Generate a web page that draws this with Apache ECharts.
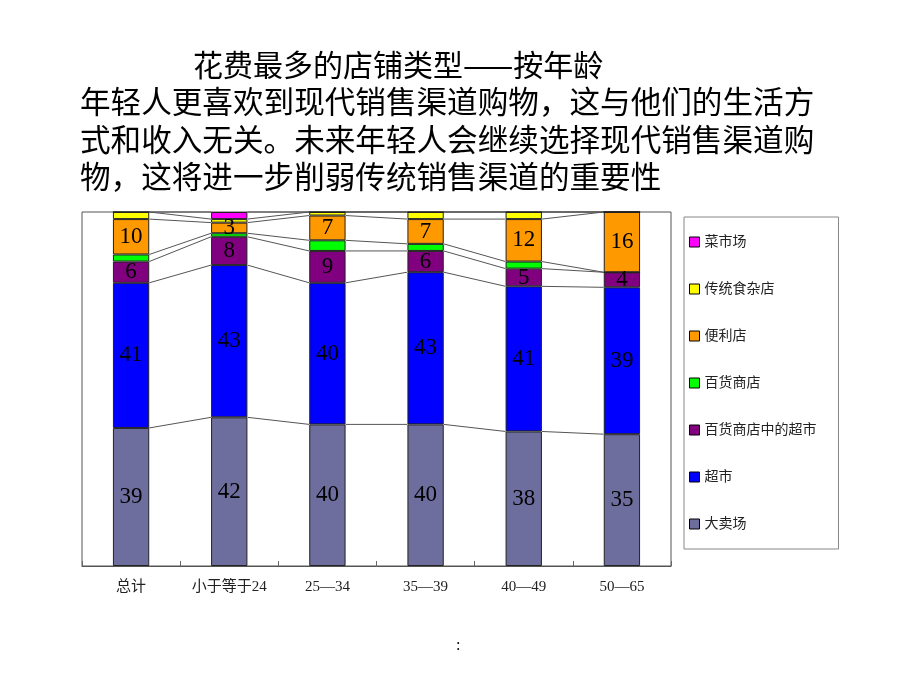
<!DOCTYPE html>
<html>
<head>
<meta charset="utf-8">
<script src="https://cdn.jsdelivr.net/npm/echarts@6/dist/echarts.min.js"></script>
<style>html,body{margin:0;padding:0;background:#fff}#chart{width:920px;height:690px}</style>
</head>
<body>
<div id="chart"></div>
<script>
const categories = ['总计', '小于等于24', '25—34', '35—39', '40—49', '50—65'];
const seriesNames = ['大卖场', '超市', '百货商店中的超市', '百货商店', '便利店', '传统食杂店', '菜市场'];
const hypermarket = [39, 42, 40, 40, 38, 35];
const supermarket = [41, 43, 40, 43, 41, 39];
const deptSupermarket = [6, 8, 9, 6, 5, 4];
const deptStore = [2, 1, 3, 2, 2, 0];
const convenience = [10, 3, 7, 7, 12, 16];
const traditional = [2, 1, 1, 2, 2, 0];
const wetMarket = [0, 2, 0, 0, 0, 0];
const legendOrder = ['菜市场', '传统食杂店', '便利店', '百货商店', '百货商店中的超市', '超市', '大卖场'];

const rawSeries = [hypermarket, supermarket, deptSupermarket, deptStore, convenience, traditional, wetMarket];
const colors = ['#6E6E9E', '#0000FF', '#800080', '#00FF00', '#FF9900', '#FFFF00', '#FF00FF'];
const showLabel = [true, true, true, false, true, false, false];

const totals = categories.map((c, i) => rawSeries.reduce((s, arr) => s + arr[i], 0));
const pctSeries = rawSeries.map(arr => arr.map((v, i) => v / totals[i] * 100));
// cumulative boundaries per category
const cum = categories.map((c, i) => {
  let s = 0;
  return pctSeries.map(arr => (s += arr[i]));
});

const BAR_FRAC = 0.37;
const labelFont = "'Liberation Serif', 'Noto Sans CJK SC', serif";

const series = rawSeries.map((raw, k) => ({
  name: seriesNames[k],
  type: 'bar',
  stack: 'total',
  barWidth: (BAR_FRAC * 100) + '%',
  data: pctSeries[k],
  itemStyle: { color: colors[k], borderColor: '#222', borderWidth: 1 },
  label: {
    show: showLabel[k],
    position: 'inside',
    color: '#000',
    fontFamily: labelFont,
    fontSize: 23,
    formatter: p => (raw[p.dataIndex] ? String(raw[p.dataIndex]) : '')
  },
  emphasis: { disabled: true }
}));

series.push({
  type: 'custom',
  name: 'serieslines',
  silent: true,
  z: 1,
  data: categories.slice(0, -1).map((c, i) => [i, 0]),
  renderItem: function (params, api) {
    const i = api.value(0);
    const bw = api.size([1, 0])[0];
    const half = bw * BAR_FRAC / 2;
    const children = [];
    for (let k = 0; k < seriesNames.length; k++) {
      const p1 = api.coord([i, cum[i][k]]);
      const p2 = api.coord([i + 1, cum[i + 1][k]]);
      children.push({
        type: 'line',
        shape: { x1: p1[0] + half, y1: p1[1], x2: p2[0] - half, y2: p2[1] },
        style: { stroke: '#555', lineWidth: 1 }
      });
    }
    return { type: 'group', children: children };
  }
});

const chart = echarts.init(document.getElementById('chart'));
chart.setOption({
  animation: false,
  backgroundColor: '#fff',
  title: [
    {
      text: '花费最多的店铺类型——按年龄',
      left: 193, top: 50, padding: 0,
      textStyle: { fontFamily: 'Noto Sans CJK SC', fontSize: 30, fontWeight: 'normal', color: '#000', lineHeight: 30 }
    },
    {
      text: '年轻人更喜欢到现代销售渠道购物，这与他们的生活方\n式和收入无关。未来年轻人会继续选择现代销售渠道购\n物，这将进一步削弱传统销售渠道的重要性',
      left: 80, top: 83, padding: 0,
      textStyle: { fontFamily: 'Noto Sans CJK SC', fontSize: 30.6, fontWeight: 'normal', color: '#000', lineHeight: 37.5 }
    }
  ],
  legend: {
    orient: 'vertical',
    left: 684, top: 217,
    data: legendOrder,
    icon: 'rect',
    itemWidth: 10, itemHeight: 10,
    itemGap: 33,
    itemStyle: { borderColor: '#000', borderWidth: 1 },
    textStyle: { fontFamily: "'Liberation Serif', 'Noto Sans CJK SC'", fontSize: 14, color: '#222', lineHeight: 14 },
    padding: [18, 22, 18, 5],
    borderColor: '#888', borderWidth: 1,
    selectedMode: false
  },
  grid: {
    left: 82, top: 212, right: 249, bottom: 124,
    show: true, borderColor: '#555', borderWidth: 1, backgroundColor: '#fff'
  },
  xAxis: {
    type: 'category',
    data: categories,
    axisLine: { show: true, lineStyle: { color: '#555', width: 1 } },
    axisTick: { show: true, inside: true, length: 5, lineStyle: { color: '#666' } },
    axisLabel: { margin: 14, fontSize: 15, color: '#222', fontFamily: "'Liberation Serif', 'Noto Sans CJK SC'" }
  },
  yAxis: {
    type: 'value', min: 0, max: 100,
    axisLabel: { show: false }, axisLine: { show: false }, axisTick: { show: false },
    splitLine: { show: false }
  },
  graphic: [
    { type: 'text', left: 456, top: 638, style: { text: ':', fontSize: 16, fill: '#000', fontFamily: 'Liberation Serif' } }
  ],
  series: series
});
</script>
</body>
</html>
